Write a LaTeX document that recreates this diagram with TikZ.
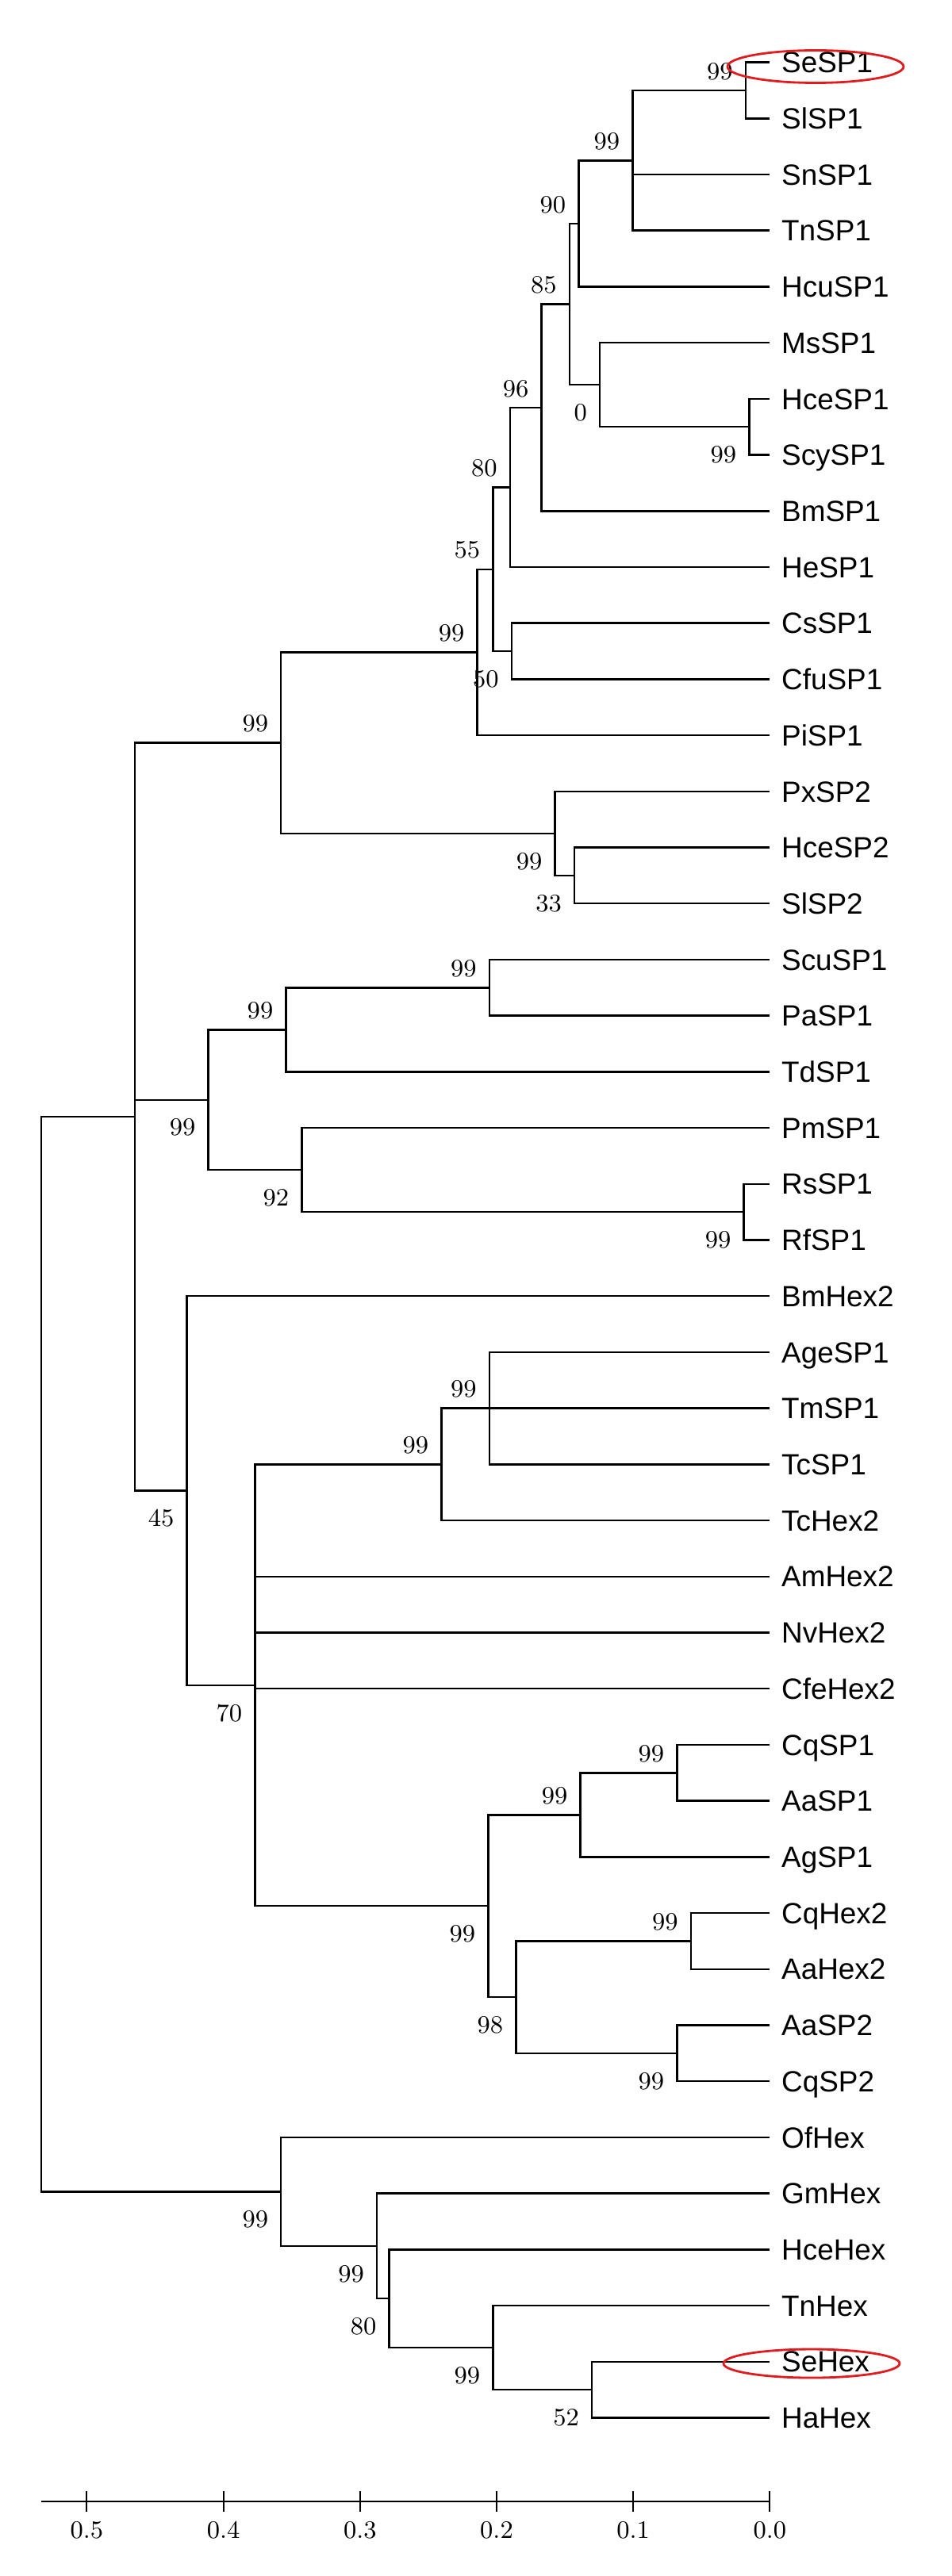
\documentclass[tikz,border=0pt]{standalone}
\usepackage{fontspec}
\newfontfamily\taxonfont{Liberation Sans}
\usepackage{tikz}
\usetikzlibrary{calc}
\usepackage{xcolor}
\definecolor{marcared}{RGB}{226,28,30}

\begin{document}
\begin{tikzpicture}[x=-17.22cm,y=-0.7071cm,
    rama/.style={line width=0.7pt,line join=miter},
    hoja/.style={anchor=west,inner xsep=4pt,inner ysep=0pt,text height=7.5pt,text depth=0pt,
      font=\taxonfont\fontsize{10.5}{12}\selectfont},
    bsup/.style={anchor=east,inner sep=0pt,xshift=-1.55mm,yshift=2.4mm,font=\fontsize{9}{10}\selectfont},
    bsdn/.style={anchor=east,inner sep=0pt,xshift=-1.55mm,yshift=-3.5mm,font=\fontsize{9}{10}\selectfont}]
  \useasboundingbox (0.56353,-1.1116) rectangle (-0.13333,44.8225);
  % Hojas
  \foreach \t [count=\i from 0] in {SeSP1,SlSP1,SnSP1,TnSP1,HcuSP1,MsSP1,HceSP1,ScySP1,BmSP1,
      HeSP1,CsSP1,CfuSP1,PiSP1,PxSP2,HceSP2,SlSP2,ScuSP1,PaSP1,TdSP1,PmSP1,RsSP1,RfSP1,
      BmHex2,AgeSP1,TmSP1,TcSP1,TcHex2,AmHex2,NvHex2,CfeHex2,CqSP1,AaSP1,AgSP1,CqHex2,
      AaHex2,AaSP2,CqSP2,OfHex,GmHex,HceHex,TnHex,SeHex,HaHex}{
    \node[hoja] (\t) at (0,\i) {\t};}
  % Nodos internos
  \foreach \n/\d/\k in {
      nA/0.0178/0.5, nB/0.1005/1.75, nC/0.1400/2.875, nF/0.0151/6.5, nE/0.1245/5.75,
      nD/0.1467/4.3125, nG/0.1671/6.1563, nH/0.1902/7.5781, nJ/0.1890/10.5, nI/0.2027/9.0391,
      nK/0.2142/10.5195, nM/0.1431/14.5, nL/0.1573/13.75, nN/0.3578/12.1348, nO/0.2053/16.5,
      nP/0.3542/17.25, nR/0.0191/20.5, nQ/0.3426/19.75, nS/0.4111/18.5, nW/0.2053/24,
      nX/0.2404/25, nZa/0.0680/30.5, nZb/0.1387/31.25, nZc/0.0578/33.5, nZd/0.0680/35.5,
      nZe/0.1858/34.5, nY/0.2062/32.875, nV/0.3769/28.9375, nU/0.4267/25.4688,
      nT/0.4649/18.8018, nAa/0.1302/41.5, nAb/0.2027/40.75, nAc/0.2786/39.875,
      nAd/0.2876/38.9375, nAe/0.3578/37.9688, raiz/0.5333/28.3853}{
    \coordinate (\n) at (\d,\k);}
  % Ramas
  \foreach \p/\c in {
      nA/SeSP1, nA/SlSP1, nB/nA, nB/SnSP1, nB/TnSP1, nC/nB, nC/HcuSP1,
      nF/HceSP1, nF/ScySP1, nE/MsSP1, nE/nF, nD/nC, nD/nE, nG/nD, nG/BmSP1,
      nH/nG, nH/HeSP1, nJ/CsSP1, nJ/CfuSP1, nI/nH, nI/nJ, nK/nI, nK/PiSP1,
      nM/HceSP2, nM/SlSP2, nL/PxSP2, nL/nM, nN/nK, nN/nL,
      nO/ScuSP1, nO/PaSP1, nP/nO, nP/TdSP1, nR/RsSP1, nR/RfSP1, nQ/PmSP1, nQ/nR,
      nS/nP, nS/nQ, nW/AgeSP1, nW/TmSP1, nW/TcSP1, nX/nW, nX/TcHex2,
      nZa/CqSP1, nZa/AaSP1, nZb/nZa, nZb/AgSP1, nZc/CqHex2, nZc/AaHex2,
      nZd/AaSP2, nZd/CqSP2, nZe/nZc, nZe/nZd, nY/nZb, nY/nZe,
      nV/nX, nV/AmHex2, nV/NvHex2, nV/CfeHex2, nV/nY, nU/BmHex2, nU/nV,
      nT/nN, nT/nS, nT/nU, nAa/SeHex, nAa/HaHex, nAb/TnHex, nAb/nAa,
      nAc/HceHex, nAc/nAb, nAd/GmHex, nAd/nAc, nAe/OfHex, nAe/nAd,
      raiz/nT, raiz/nAe}{
    \draw[rama] (\p) |- (\c);}
  % Bootstrap
  \foreach \n/\v in {nA/99, nB/99, nC/90, nD/85, nG/96, nH/80, nI/55, nK/99, nN/99,
      nO/99, nP/99, nW/99, nX/99, nZa/99, nZb/99, nZc/99}{
    \node[bsup] (b\n) at (\n) {\v};}
  \foreach \n/\v in {nE/0, nF/99, nJ/50, nL/99, nM/33, nQ/92, nR/99, nS/99, nU/45,
      nV/70, nZd/99, nZe/98, nY/99, nAe/99, nAd/99, nAc/80, nAb/99, nAa/52}{
    \node[bsdn] (b\n) at (\n) {\v};}
  % Escala
  \coordinate (ejeL) at (0.5333,43.489);
  \coordinate (ejeR) at (0,43.489);
  \draw[line width=0.6pt] (ejeL) -- (ejeR);
  \foreach \v in {0,...,5}{
    \coordinate (tk\v) at (\v/10,43.489);
    \draw[line width=0.6pt] ([yshift=1.3mm]tk\v) -- ([yshift=-1.3mm]tk\v);
    \node[inner sep=0pt,font=\fontsize{9}{10}\selectfont] (et\v) at ([yshift=-3.65mm]tk\v) {0.\v};}
  % Marcas
  \draw[marcared,line width=0.8pt] ([xshift=5.76mm,yshift=-0.54mm]SeSP1.west) ellipse (11.1mm and 2.05mm);
  \draw[marcared,line width=0.8pt] ([xshift=5.26mm,yshift=-0.23mm]SeHex.west) ellipse (11.1mm and 1.8mm);
\end{tikzpicture}
\end{document}
